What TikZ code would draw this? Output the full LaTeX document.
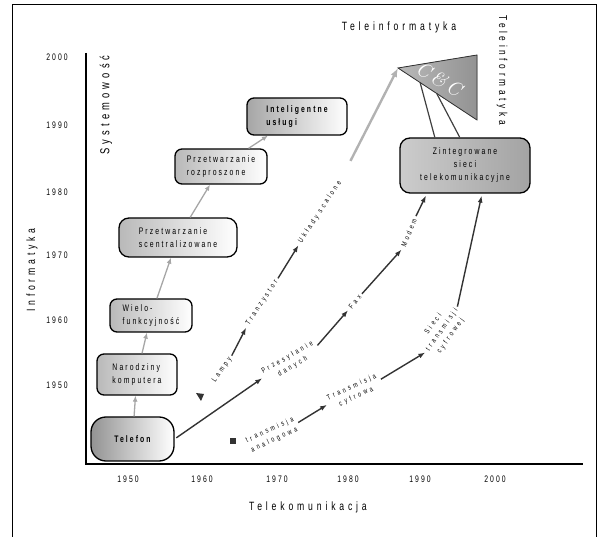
\documentclass[tikz,border=0pt]{standalone}
\usepackage{fontspec}
\newfontfamily\diafont[FakeStretch=0.72,LetterSpace=22]{Liberation Sans}
\newfontfamily\axfont[FakeStretch=0.72,LetterSpace=32]{Liberation Sans}
\newfontfamily\stepfont[FakeStretch=0.72,LetterSpace=40]{Liberation Sans}
\usetikzlibrary{arrows.meta, positioning, calc, shapes.geometric}

\begin{document}
\begin{tikzpicture}[x=1pt, y=-1pt,
    stagebox/.style={draw=black, line width=1.3pt, rounded corners=7pt, align=left, inner sep=2pt,
      font=\diafont\fontsize{9.5}{13}\selectfont, left color=gray!55, right color=white},
    barr/.style={-{Latex[length=6pt, width=5pt]}, line width=1.3pt, gray!70},
    tarr/.style={-{Latex[length=7pt, width=5pt]}, line width=1.4pt, black!80, shorten >=2pt, shorten <=2pt},
    ticklab/.style={font=\diafont\fontsize{9.5}{10}\selectfont},
    axlab/.style={font=\axfont\fontsize{12}{14}\selectfont},
    steplab/.style={font=\stepfont\fontsize{7.5}{10.5}\selectfont, align=center, inner sep=1pt}]

  \useasboundingbox (0,0) rectangle (598,537);

  % frame and axes
  \draw[line width=1pt] (12,537) -- (12,5) -- (596,5) -- (596,537);
  \draw[line width=1.2pt] (86,53) -- (86,464) -- (583,464);

  \foreach \yr/\yy in {2000/57, 1990/125, 1980/192, 1970/255, 1960/320, 1950/385}
    \node[ticklab] at (57,\yy) {\yr};
  \foreach \yr/\xx in {1950/128, 1960/202, 1970/277, 1980/348, 1990/420, 2000/495}
    \node[ticklab] at (\xx,479) {\yr};

  \node[axlab] (telekom) at (308,507) {Telekomunikacja};
  \node[axlab, rotate=90] (inform) at (32,270) {Informatyka};
  \node[axlab, rotate=90, font=\axfont\fontsize{13}{15}\selectfont] (system) at (106,105) {Systemowość};
  \node[axlab] (teleinf) at (399,27) {Teleinformatyka};
  \node[axlab, rotate=-90, font=\axfont\fontsize{11.5}{14}\selectfont] (teleinfv) at (502,70) {Teleinformatyka};

  % C&C triangle
  \coordinate (cc-apex) at (398,68);
  \coordinate (cc-top) at (477,55);
  \coordinate (cc-low) at (477,120);
  \fill[left color=gray!55, right color=gray!85, draw=black!80, line width=0.8pt]
    (cc-apex) -- (cc-top) -- (cc-low) -- cycle;
  \node[text=white, rotate=-30, font=\fontsize{20}{22}\selectfont\itshape] (cc) at (439,79) {C\hspace{3pt}\&\hspace{3pt}C};
  \coordinate (cc-a) at ($(cc-apex)!0.28!(cc-low)$);
  \coordinate (cc-b) at ($(cc-apex)!0.49!(cc-low)$);

  % computer stream
  \node[stagebox, rounded corners=15pt, minimum width=83pt, minimum height=44pt, align=center,
        left color=gray!85, font=\diafont\bfseries\fontsize{9.5}{13}\selectfont] (tel) at (132.5,439) {Telefon};
  \node[stagebox, minimum width=80pt, minimum height=41pt] (narodz) at (137,374.5) {Narodziny\\komputera};
  \node[stagebox, minimum width=82pt, minimum height=33pt] (wielo) at (151,315.5) {Wielo-\\funkcyjność};
  \node[stagebox, rounded corners=10pt, minimum width=118pt, minimum height=39pt] (scentr) at (178,237.5) {Przetwarzanie\\scentralizowane};
  \node[stagebox, minimum width=92pt, minimum height=35pt] (rozpr) at (221,166.5) {Przetwarzanie\\rozproszone};
  \node[stagebox, minimum width=100pt, minimum height=37pt, left color=gray!70,
        font=\diafont\bfseries\fontsize{9.5}{13}\selectfont] (intel) at (297,116.5) {Inteligentne\\usługi};

  \draw[barr] (tel) -- (narodz);
  \draw[barr] (narodz) -- (wielo);
  \draw[barr] (wielo) -- (scentr);
  \draw[barr] (scentr) -- (rozpr);
  \draw[barr] (rozpr) -- (intel);

  % integrated networks
  \node[stagebox, rounded corners=10pt, minimum width=130pt, minimum height=55pt, align=center,
        left color=gray!40, right color=gray!72] (zint) at (465,165.5) {Zintegrowane\\sieci\\telekomunikacyjne};
  \coordinate (zint-a) at ($(zint.south west)!0.21!(zint.south east)$);
  \coordinate (zint-b) at ($(zint.south west)!0.63!(zint.south east)$);
  \coordinate (zint-c) at ($(zint.north west)!0.27!(zint.north east)$);
  \coordinate (zint-d) at ($(zint.north west)!0.46!(zint.north east)$);

  % technology labels
  \node[steplab, rotate=55] (lampy) at (222,370) {Lampy};
  \node[steplab, rotate=57] (tranz) at (262,303) {Tranzystor};
  \node[steplab, rotate=57] (uklady) at (320,212) {Układy scalone};
  \node[steplab, rotate=30] (przes) at (290,362) {Przesyłanie\\danych};
  \node[steplab, rotate=50] (fax) at (355,302) {Fax};
  \node[steplab, rotate=68] (modem) at (409,233) {Modem};
  \node[steplab, rotate=25] (analog) at (272,435) {transmisja\\analogowa};
  \node[steplab, rotate=25] (cyfr) at (354,392) {Transmisja\\cyfrowa};
  \node[steplab, rotate=55] (sieci) at (442,330) {Sieci\\transmisji\\cyfrowej};

  % start markers
  \fill[black!80] (196,393) -- (204,394) -- (201,401) -- cycle;
  \fill[black!80] (230,438) rectangle (236,444);

  % technology chain
  \draw[tarr] (lampy.east) -- (tranz.west);
  \draw[tarr] (tranz.east) -- (uklady.west);
  \draw[-{Latex[length=9pt, width=7pt]}, line width=2.4pt, gray!60, shorten <=22pt] (uklady.east) -- (cc-apex);

  % data chain
  \draw[tarr] (tel.east) -- (przes.west);
  \draw[tarr] (przes.east) -- (fax.west);
  \draw[tarr] (fax.east) -- (modem.west);
  \draw[tarr] (modem.east) -- (zint-a);
  \draw[line width=1.2pt, black!75] (zint-c) -- (cc-a);

  % transmission chain
  \draw[tarr] (analog.east) -- (cyfr.west);
  \draw[tarr] (cyfr.east) -- (sieci.west);
  \draw[tarr] (sieci.east) -- (zint-b);
  \draw[line width=1.2pt, black!75] (zint-d) -- (cc-b);
\end{tikzpicture}
\end{document}
